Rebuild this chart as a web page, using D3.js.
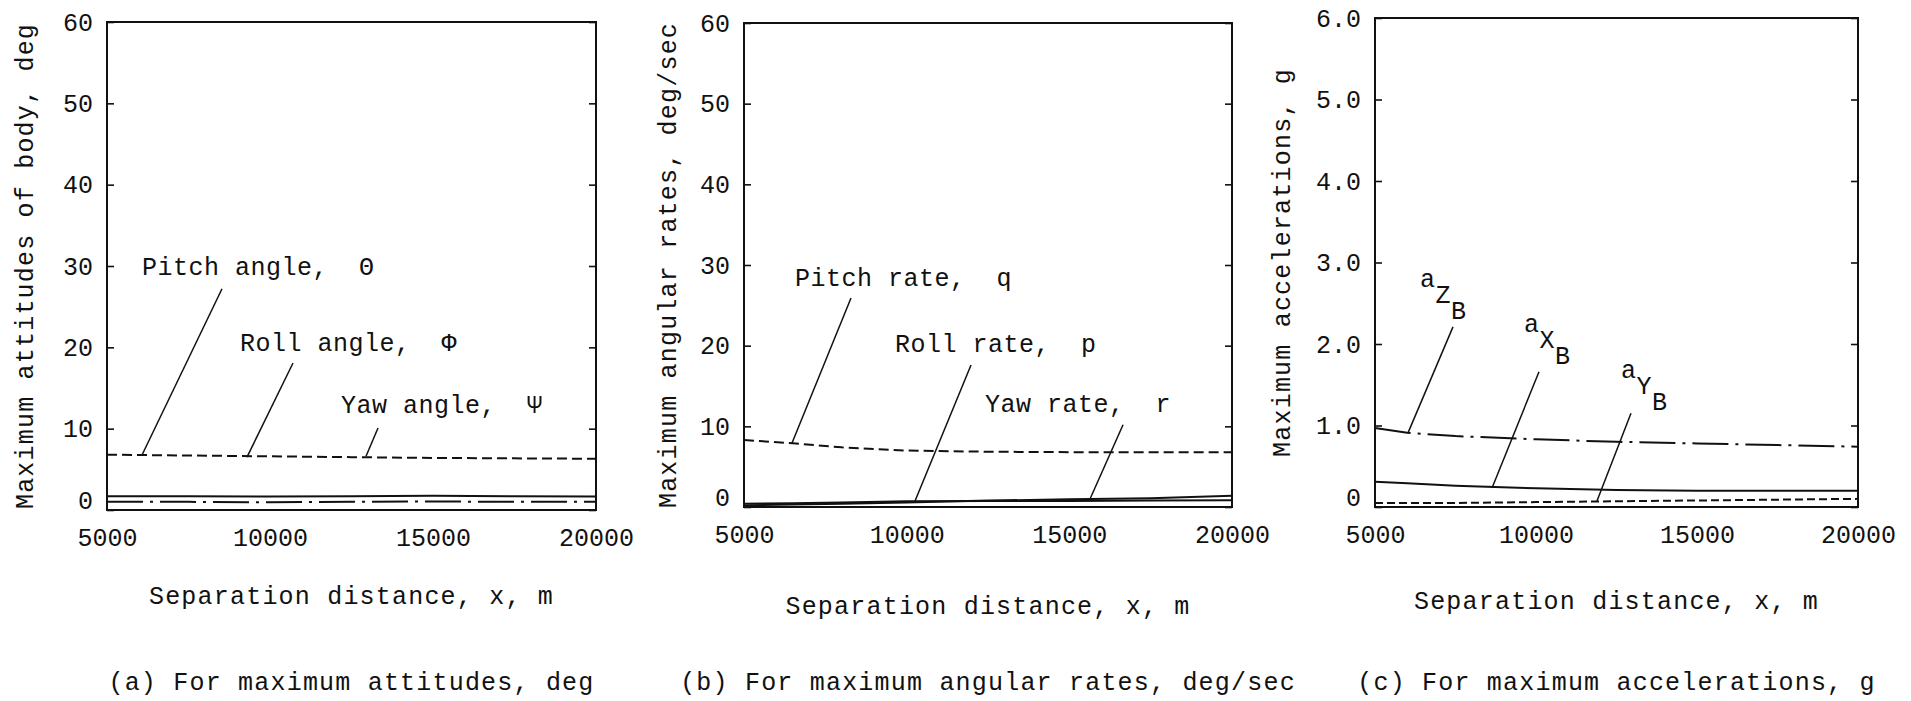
<!DOCTYPE html>
<html>
<head>
<meta charset="utf-8">
<script src="https://cdn.jsdelivr.net/npm/d3@7/dist/d3.min.js"></script>
<style>
  body { margin: 0; background: #fff; }
  svg text { font-family: "Liberation Mono", "DejaVu Sans Mono", monospace; fill: #111; }
</style>
</head>
<body>
<div id="app"></div>
<script>
// ----- Data -----

const xTicks = [5000, 10000, 15000, 20000];
const angleTicks = [0, 10, 20, 30, 40, 50, 60];
const angleTickLabels = ["0", "10", "20", "30", "40", "50", "60"];
const accelTicks = [0, 1, 2, 3, 4, 5, 6];
const accelTickLabels = ["0", "1.0", "2.0", "3.0", "4.0", "5.0", "6.0"];

// (a) attitudes, deg
const distA = [5000, 7500, 10000, 12500, 15000, 17500, 20000];
const pitchAngle = [6.8, 6.7, 6.6, 6.5, 6.4, 6.35, 6.3];
const rollAngle = [1.7, 1.7, 1.65, 1.7, 1.75, 1.7, 1.65];
const yawAngle = [1.0, 1.0, 0.95, 1.0, 1.05, 1.0, 1.0];

// (b) angular rates, deg/sec
const distB = [5000, 6500, 8000, 10000, 12500, 15000, 17500, 20000];
const pitchRate = [8.3, 7.9, 7.4, 7.0, 6.85, 6.8, 6.8, 6.8];
const rollRate = [0.4, 0.45, 0.55, 0.7, 0.75, 0.75, 0.8, 0.85];
const yawRate = [0.2, 0.3, 0.4, 0.55, 0.8, 0.95, 1.1, 1.4];

// (c) accelerations, g
const distC = [5000, 6000, 7500, 10000, 12500, 15000, 17500, 20000];
const accZ = [0.97, 0.91, 0.87, 0.83, 0.80, 0.78, 0.76, 0.74];
const accX = [0.31, 0.29, 0.26, 0.23, 0.21, 0.20, 0.20, 0.20];
const accY = [0.05, 0.05, 0.05, 0.06, 0.07, 0.08, 0.09, 0.10];

// ----- Styles -----
const DASH = "10,5";
const DASHDOT = "36,7,3,7";
const FONT = 25;

// ----- Panels -----
const panels = [
    {
        left: 107, right: 596, top: 22, bottom: 510,
        yDomain: [0, 60], yTicks: angleTicks, yLabels: angleTickLabels,
        yTitle: "Maximum attitudes of body, deg", yTitleX: 24,
        xTitleY: 595, caption: "(a) For maximum attitudes, deg",
        dist: distA,
        series: [
            { values: pitchAngle, dash: DASH },
            { values: rollAngle, dash: null },
            { values: yawAngle, dash: DASHDOT }
        ],
        notes: [
            { parts: ["Pitch angle,  \u0398"], at: [6074, 28.9], from: [8528, 27.2], to: [6074, 6.76] },
            { parts: ["Roll angle,  \u03A6"], at: [9080, 19.55], from: [10706, 18.07], to: [9294, 6.5] },
            { parts: ["Yaw angle,  \u03A8"], at: [12178, 11.9], from: [13313, 10.08], to: [12945, 6.6] }
        ]
    },
    {
        left: 744, right: 1232, top: 23, bottom: 507,
        yDomain: [0, 60], yTicks: angleTicks, yLabels: angleTickLabels,
        yTitle: "Maximum angular rates, deg/sec", yTitleX: 667,
        xTitleY: 605, caption: "(b) For maximum angular rates, deg/sec",
        dist: distB,
        series: [
            { values: pitchRate, dash: DASH },
            { values: rollRate, dash: null },
            { values: yawRate, dash: null }
        ],
        notes: [
            { parts: ["Pitch rate,  q"], at: [6568, 27.4], from: [8289, 25.9], to: [6476, 7.93] },
            { parts: ["Roll rate,  p"], at: [9642, 19.2], from: [11978, 17.6], to: [10257, 0.74] },
            { parts: ["Yaw rate,  r"], at: [12408, 11.8], from: [16651, 10.2], to: [15636, 1.0] }
        ]
    },
    {
        left: 1375, right: 1858, top: 18, bottom: 507,
        yDomain: [0, 6], yTicks: accelTicks, yLabels: accelTickLabels,
        yTitle: "Maximum accelerations, g", yTitleX: 1281,
        xTitleY: 600, caption: "(c) For maximum accelerations, g",
        dist: distC,
        series: [
            { values: accZ, dash: DASHDOT },
            { values: accX, dash: null },
            { values: accY, dash: "8,4" }
        ],
        notes: [
            { parts: ["a", "Z", "B"], at: [6398, 2.70], from: [7422, 2.21], to: [6025, 0.91] },
            { parts: ["a", "X", "B"], at: [9627, 2.15], from: [10093, 1.66], to: [8634, 0.233] },
            { parts: ["a", "Y", "B"], at: [12640, 1.58], from: [12950, 1.15], to: [11894, 0.074] }
        ]
    }
];

// ----- Main program -----

const svg = d3.select("#app").append("svg")
    .attr("width", 1911)
    .attr("height", 701)
    .style("background", "#fff");

function drawPanel(p) {
    const x = d3.scaleLinear().domain([5000, 20000]).range([p.left, p.right]);
    const y = d3.scaleLinear().domain(p.yDomain).range([p.bottom, p.top]);
    const g = svg.append("g");

    // frame
    g.append("rect")
        .attr("x", p.left).attr("y", p.top)
        .attr("width", p.right - p.left).attr("height", p.bottom - p.top)
        .attr("fill", "none").attr("stroke", "#111").attr("stroke-width", 2);

    // left axis, ticks pointing inward
    const ax = g.append("g")
        .attr("transform", `translate(${p.left},0)`)
        .call(d3.axisLeft(y).tickValues(p.yTicks)
            .tickFormat((d, i) => p.yLabels[i])
            .tickSize(-7).tickPadding(14));
    ax.select(".domain").remove();
    ax.selectAll("line").attr("stroke", "#111").attr("stroke-width", 1.6);
    ax.selectAll("text")
        .attr("font-size", FONT)
        .attr("font-family", "Liberation Mono")
        .attr("fill", "#111")
        .attr("dy", d => d === 0 ? "-0.05em" : "0.32em");

    // right axis ticks
    const ar = g.append("g")
        .attr("transform", `translate(${p.right},0)`)
        .call(d3.axisRight(y).tickValues(p.yTicks).tickFormat("").tickSize(-7));
    ar.select(".domain").remove();
    ar.selectAll("line").attr("stroke", "#111").attr("stroke-width", 1.6);

    // bottom axis labels
    const ab = g.append("g")
        .attr("transform", `translate(0,${p.bottom})`)
        .call(d3.axisBottom(x).tickValues(xTicks).tickSize(0).tickPadding(18)
            .tickFormat(d3.format("d")));
    ab.select(".domain").remove();
    ab.selectAll("text")
        .attr("font-size", FONT)
        .attr("font-family", "Liberation Mono")
        .attr("fill", "#111");

    // curves
    const line = d3.line()
        .x((d, i) => x(p.dist[i]))
        .y(d => y(d));
    p.series.forEach(s => {
        g.append("path")
            .datum(s.values)
            .attr("d", line)
            .attr("fill", "none")
            .attr("stroke", "#111")
            .attr("stroke-width", 2)
            .attr("stroke-dasharray", s.dash);
    });

    // annotations with leader lines
    p.notes.forEach(n => {
        g.append("line")
            .attr("x1", x(n.from[0])).attr("y1", y(n.from[1]))
            .attr("x2", x(n.to[0])).attr("y2", y(n.to[1]))
            .attr("stroke", "#111").attr("stroke-width", 1.5);
        const t = g.append("text")
            .attr("x", x(n.at[0])).attr("y", y(n.at[1]))
            .attr("font-size", FONT)
            .attr("letter-spacing", 0.5)
            .style("white-space", "pre");
        n.parts.forEach((s, i) => {
            t.append("tspan")
                .attr("dy", i === 0 ? 0 : 16)
                .text(s);
        });
    });

    // axis titles and caption
    g.append("text")
        .attr("transform", `translate(${p.yTitleX},${(p.top + p.bottom) / 2}) rotate(-90)`)
        .attr("text-anchor", "middle")
        .attr("dy", "0.35em")
        .attr("font-size", FONT)
        .attr("letter-spacing", 1.2)
        .text(p.yTitle);

    g.append("text")
        .attr("x", (p.left + p.right) / 2)
        .attr("y", p.xTitleY)
        .attr("text-anchor", "middle")
        .attr("dy", "0.35em")
        .attr("font-size", FONT)
        .attr("letter-spacing", 1.2)
        .text("Separation distance, x, m");

    g.append("text")
        .attr("x", (p.left + p.right) / 2)
        .attr("y", 681)
        .attr("text-anchor", "middle")
        .attr("dy", "0.35em")
        .attr("font-size", FONT)
        .attr("letter-spacing", 1.2)
        .text(p.caption);
}

panels.forEach(drawPanel);
</script>
</body>
</html>
